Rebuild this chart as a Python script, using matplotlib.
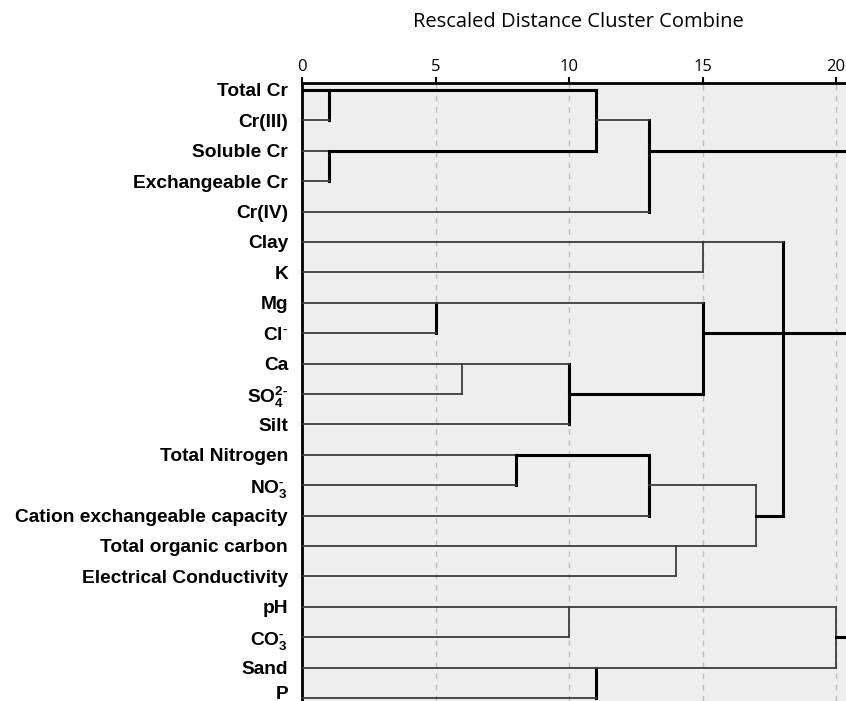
import numpy as np
import matplotlib
matplotlib.use('Agg')
import matplotlib.pyplot as plt
from matplotlib.transforms import ScaledTranslation

plt.rcParams['mathtext.fontset'] = 'custom'
plt.rcParams['mathtext.rm'] = 'Liberation Sans:bold'
plt.rcParams['mathtext.bf'] = 'Liberation Sans:bold'
plt.rcParams['mathtext.it'] = 'Liberation Sans:bold'

# leaves, top to bottom
labels = ['Total Cr', 'Cr(III)', 'Soluble Cr', 'Exchangeable Cr', 'Cr(IV)',
          'Clay', 'K', 'Mg', r'Cl$^{\text{-}}$', 'Ca', r'SO$_{4}^{2\text{-}}$', 'Silt',
          'Total Nitrogen', r'NO$_{3}^{\text{-}}$', 'Cation exchangeable capacity',
          'Total organic carbon', 'Electrical Conductivity', 'pH',
          r'CO$_{3}^{\text{-}}$', 'Sand', 'P']

# merges: children (leaf index < 21, node index = 21 + position), distance
merge_children = [(0, 1), (2, 3), (21, 22), (23, 4),
                  (5, 6), (7, 8), (9, 10), (27, 11), (26, 28),
                  (12, 13), (30, 14), (15, 16), (31, 32), (25, 29, 33),
                  (17, 18), (19, 20), (35, 36)]
merge_dist = [1, 1, 11, 13,
              15, 5, 6, 10, 15,
              8, 13, 14, 17, 18,
              10, 11, 20]

ticks = [0, 5, 10, 15, 20]

n = len(labels)
# drawing style: which uprights / outgoing branches are drawn heavier
thick_vert = {21, 22, 23, 24, 26, 28, 29, 30, 31, 34, 36}
thick_out = {0, 21, 22, 24, 28, 29, 30, 33, 34, 37}
THIN = dict(color='#3c3c3c', lw=1.3)
THICK = dict(color='black', lw=2.2)

fig = plt.figure(figsize=(8.46, 7.01), dpi=100)
ax = fig.add_axes([302 / 846, 0, 544 / 846, 1 - 83 / 701])
ax.set_facecolor('#eeeeee')
xmax = 20.37
ax.set_xlim(0, xmax)
ax.set_ylim(20.1, -0.23)

for t in ticks[1:]:
    ax.axvline(t, color='#bdbdbd', lw=1, ls=(0, (4, 4)), zorder=1)

row = {i: i for i in range(n)}
dist = {i: 0 for i in range(n)}
parent = {}
for k, (ch, d) in enumerate(zip(merge_children, merge_dist)):
    node = n + k
    row[node] = int(np.floor(np.median([row[c] for c in ch])))
    dist[node] = d
    for c in ch:
        parent[c] = node

for k, (ch, d) in enumerate(zip(merge_children, merge_dist)):
    node = n + k
    rs = [row[c] for c in ch]
    st = THICK if node in thick_vert else THIN
    ax.plot([d, d], [min(rs), max(rs)], solid_capstyle='projecting', zorder=3, **st)
    for c in ch:
        st = THICK if c in thick_out else THIN
        ax.plot([dist[c], d], [row[c], row[c]], solid_capstyle='projecting', zorder=3, **st)
    if node not in parent:
        st = THICK if node in thick_out else THIN
        ax.plot([d, xmax], [row[node], row[node]], zorder=3, **st)

ax.spines['right'].set_visible(False)
ax.spines['bottom'].set_visible(False)
ax.spines['top'].set_linewidth(2)
ax.spines['left'].set_linewidth(2)

ax.xaxis.tick_top()
ax.set_xticks(ticks)
ax.set_xticklabels([str(t) for t in ticks], fontsize=12, family='Open Sans')
ax.tick_params(axis='x', length=4, width=1.5, pad=2)

ax.set_yticks(range(n))
ax.set_yticklabels(labels, fontsize=13.8, fontweight='bold', family='Liberation Sans')
ax.tick_params(axis='y', length=0, pad=10)

# last label sits at the bottom edge; lift it a little so it stays visible
last = ax.get_yticklabels()[-1]
last.set_transform(last.get_transform() + ScaledTranslation(0, 4 / 72, fig.dpi_scale_trans))

fig.text(578 / 846, 1 - 22 / 701, 'Rescaled Distance Cluster Combine',
         ha='center', va='center', fontsize=14.5, family='Open Sans')

fig.savefig('out.png', dpi=100)
